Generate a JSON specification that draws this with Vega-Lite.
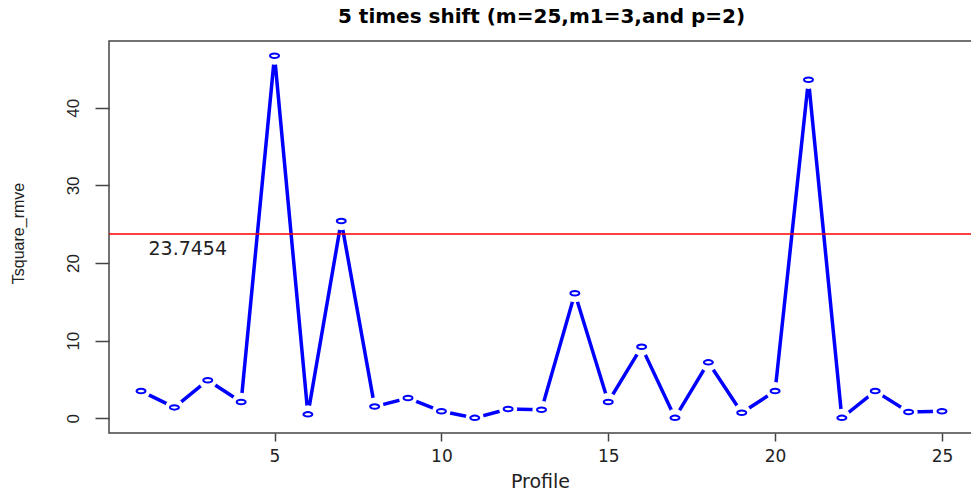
{
  "$schema": "https://vega.github.io/schema/vega-lite/v6.json",
  "autosize": {"type": "none"},
  "padding": {"left": 109, "top": 41, "right": 0, "bottom": 61},
  "width": 865,
  "height": 392,
  "background": "white",
  "title": {
    "text": "5 times shift (m=25,m1=3,and p=2)",
    "anchor": "middle",
    "font": "DejaVu Sans",
    "fontWeight": "bold",
    "fontSize": 20,
    "color": "#000000",
    "offset": 14
  },
  "config": {
    "view": {"stroke": "#444444", "strokeWidth": 1.5},
    "axis": {"grid": false, "domain": false, "tickColor": "#444444", "tickWidth": 1.5, "labelColor": "#222222", "titleColor": "#222222", "titleFontWeight": "normal"}
  },
  "data": {
    "values": [
      {"Profile": 1, "T": 3.5},
      {"Profile": 2, "T": 1.4},
      {"Profile": 3, "T": 4.9},
      {"Profile": 4, "T": 2.1},
      {"Profile": 5, "T": 46.7},
      {"Profile": 6, "T": 0.5},
      {"Profile": 7, "T": 25.4},
      {"Profile": 8, "T": 1.5},
      {"Profile": 9, "T": 2.6},
      {"Profile": 10, "T": 0.9},
      {"Profile": 11, "T": 0.05},
      {"Profile": 12, "T": 1.2},
      {"Profile": 13, "T": 1.1},
      {"Profile": 14, "T": 16.1},
      {"Profile": 15, "T": 2.1},
      {"Profile": 16, "T": 9.2},
      {"Profile": 17, "T": 0.05},
      {"Profile": 18, "T": 7.2},
      {"Profile": 19, "T": 0.7},
      {"Profile": 20, "T": 3.5},
      {"Profile": 21, "T": 43.6},
      {"Profile": 22, "T": 0.05},
      {"Profile": 23, "T": 3.5},
      {"Profile": 24, "T": 0.8},
      {"Profile": 25, "T": 0.9}
    ]
  },
  "encoding": {
    "x": {
      "field": "Profile", "type": "quantitative",
      "scale": {"domain": [0.04, 25.96], "nice": false, "zero": false},
      "axis": {
        "values": [5, 10, 15, 20, 25],
        "title": "Profile",
        "tickSize": 8,
        "labelFont": "DejaVu Sans", "labelFontSize": 17, "labelPadding": 7,
        "titleFont": "DejaVu Sans", "titleFontSize": 19,
        "titleY": 48, "titleBaseline": "middle", "titleX": 431
      }
    },
    "y": {
      "field": "T", "type": "quantitative",
      "scale": {"domain": [-1.9, 48.6], "nice": false, "zero": false},
      "axis": {
        "values": [0, 10, 20, 30, 40],
        "title": "Tsquare_rmve",
        "tickSize": 14,
        "labelAngle": 270, "labelAlign": "center", "labelBaseline": "bottom",
        "labelFont": "Liberation Sans Narrow, Liberation Sans", "labelFontSize": 17, "labelPadding": 13,
        "titleFont": "Liberation Sans Narrow, Liberation Sans", "titleFontSize": 16,
        "titleAngle": 270, "titleAlign": "center", "titleBaseline": "middle",
        "titleX": -91, "titleY": 192
      }
    }
  },
  "layer": [
    {"mark": {"type": "line", "color": "#0000FF", "strokeWidth": 3.5}},
    {
      "mark": {"type": "circle", "color": "#FFFFFF", "opacity": 1, "size": 330}
    },
    {
      "data": {"values": [{"limit": 23.7454}]},
      "mark": {"type": "rule", "color": "#FF0000", "strokeWidth": 1.5},
      "encoding": {"y": {"field": "limit", "type": "quantitative"}, "x": null}
    },
    {
      "data": {"values": [{"px": 2.4, "py": 21.8, "label": "23.7454"}]},
      "mark": {"type": "text", "font": "DejaVu Sans", "fontSize": 19, "color": "#222222", "align": "center", "baseline": "middle"},
      "encoding": {
        "x": {"field": "px", "type": "quantitative"},
        "y": {"field": "py", "type": "quantitative"},
        "text": {"field": "label"}
      }
    },
    {
      "mark": {"type": "point", "shape": "M -1 0 C -1 -0.276 -0.552 -0.5 0 -0.5 C 0.552 -0.5 1 -0.276 1 0 C 1 0.276 0.552 0.5 0 0.5 C -0.552 0.5 -1 0.276 -1 0 Z", "filled": false, "stroke": "#0000FF", "strokeWidth": 2, "opacity": 1, "size": 81}
    }
  ]
}
